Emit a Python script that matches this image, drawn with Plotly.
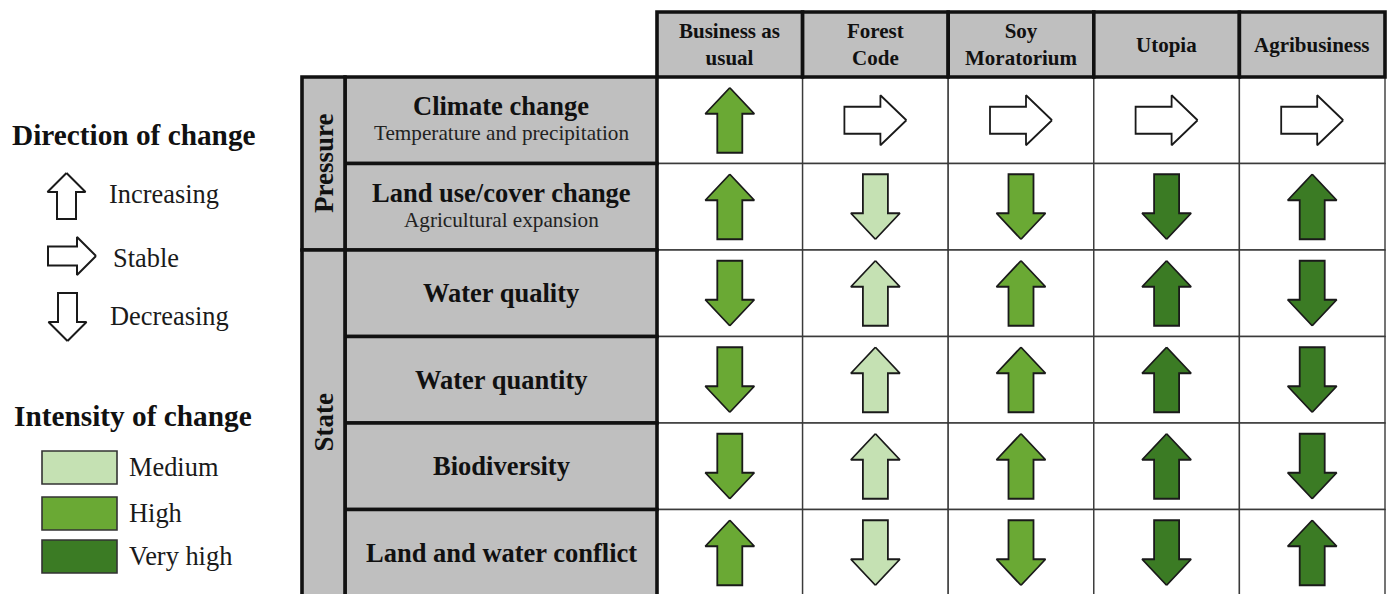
import plotly.graph_objects as go

# ---------------- data ----------------
scenarios = ["Business as<br>usual", "Forest<br>Code", "Soy<br>Moratorium", "Utopia", "Agribusiness"]
indicators = ["Climate change", "Land use/cover change", "Water quality",
              "Water quantity", "Biodiversity", "Land and water conflict"]
indicator_notes = ["Temperature and precipitation", "Agricultural expansion", "", "", "", ""]
groups = ["Pressure", "State"]
group_sizes = [2, 4]

bau_direction = ["Increasing", "Increasing", "Decreasing", "Decreasing", "Decreasing", "Increasing"]
bau_intensity = ["High", "High", "High", "High", "High", "High"]
forest_direction = ["Stable", "Decreasing", "Increasing", "Increasing", "Increasing", "Decreasing"]
forest_intensity = ["None", "Medium", "Medium", "Medium", "Medium", "Medium"]
soy_direction = ["Stable", "Decreasing", "Increasing", "Increasing", "Increasing", "Decreasing"]
soy_intensity = ["None", "High", "High", "High", "High", "High"]
utopia_direction = ["Stable", "Decreasing", "Increasing", "Increasing", "Increasing", "Decreasing"]
utopia_intensity = ["None", "Very high", "Very high", "Very high", "Very high", "Very high"]
agri_direction = ["Stable", "Increasing", "Decreasing", "Decreasing", "Decreasing", "Increasing"]
agri_intensity = ["None", "Very high", "Very high", "Very high", "Very high", "Very high"]

directions = [bau_direction, forest_direction, soy_direction, utopia_direction, agri_direction]
intensities = [bau_intensity, forest_intensity, soy_intensity, utopia_intensity, agri_intensity]

direction_labels = ["Increasing", "Stable", "Decreasing"]
intensity_labels = ["Medium", "High", "Very high"]
intensity_colors = {"Medium": "#c5e1b3", "High": "#6aa934", "Very high": "#3b7b24", "None": "#ffffff"}

# ---------------- layout helpers (pixel -> axis units) ----------------
W, H = 1387, 594
X0, CW = 657.0, 145.6      # left of data area, column width (px)
Y0, RH = 77.0, 86.5        # top of first row, row height (px)


def ux(px):
    return (px - X0) / CW


def uy(py):
    return (py - Y0) / RH


GRAY = "#bfbfbf"
INK = "#111111"
SERIF = "Liberation Serif, Times New Roman, serif"
THICK = 3.6


def arrow_offsets(kind, L, HL, HW, SW):
    a, b = L / 2.0, L / 2.0 - HL
    up = [(0, -a), (HW / 2, -b), (SW / 2, -b), (SW / 2, a), (-SW / 2, a), (-SW / 2, -b), (-HW / 2, -b), (0, -a)]
    if kind == "Increasing":
        return up
    if kind == "Decreasing":
        return [(x, -y) for x, y in up]
    return [(-y, x) for x, y in up]  # Stable -> pointing right


def arrow_trace(kind, cx, cy, L, HL, HW, SW, fill, lw):
    pts = arrow_offsets(kind, L, HL, HW, SW)
    return go.Scatter(
        x=[cx + p[0] / CW for p in pts],
        y=[cy + p[1] / RH for p in pts],
        mode="lines", fill="toself", fillcolor=fill,
        line=dict(color="#1a1a1a", width=lw),
        hoverinfo="skip", showlegend=False,
    )


fig = go.Figure()
shapes = []
annotations = []

n_cols = len(scenarios)
n_rows = len(indicators)

# ---- data cells (thin grid) ----
for j in range(n_cols):
    for i in range(n_rows):
        shapes.append(dict(type="rect", xref="x", yref="y", x0=j, x1=j + 1, y0=i, y1=i + 1,
                           fillcolor="white", line=dict(color="#3a3a3a", width=1.4), layer="below"))

# ---- header cells ----
hdr_top = uy(12)
for j, name in enumerate(scenarios):
    shapes.append(dict(type="rect", xref="x", yref="y", x0=j, x1=j + 1, y0=hdr_top, y1=0,
                       fillcolor=GRAY, line=dict(color=INK, width=THICK), layer="below"))
    annotations.append(dict(x=j + 0.5, y=hdr_top / 2, xref="x", yref="y", text="<b>" + name + "</b>",
                            showarrow=False, font=dict(family=SERIF, size=21, color=INK),
                            xanchor="center", yanchor="middle"))

# ---- indicator label cells ----
lab_left = ux(345)
for i, name in enumerate(indicators):
    shapes.append(dict(type="rect", xref="x", yref="y", x0=lab_left, x1=0, y0=i, y1=i + 1,
                       fillcolor=GRAY, line=dict(color=INK, width=THICK), layer="below"))
    cx = lab_left / 2
    if indicator_notes[i]:
        annotations.append(dict(x=cx, y=i + 0.5 - 14 / RH, xref="x", yref="y", text="<b>" + name + "</b>",
                                showarrow=False, font=dict(family=SERIF, size=26.5, color=INK),
                                xanchor="center", yanchor="middle"))
        annotations.append(dict(x=cx, y=i + 0.5 + 13 / RH, xref="x", yref="y", text=indicator_notes[i],
                                showarrow=False, font=dict(family=SERIF, size=21.2, color="#222222"),
                                xanchor="center", yanchor="middle"))
    else:
        annotations.append(dict(x=cx, y=i + 0.5, xref="x", yref="y", text="<b>" + name + "</b>",
                                showarrow=False, font=dict(family=SERIF, size=26.5, color=INK),
                                xanchor="center", yanchor="middle"))

# ---- group cells ----
grp_left = ux(302)
start = 0
for g, size in zip(groups, group_sizes):
    shapes.append(dict(type="rect", xref="x", yref="y", x0=grp_left, x1=lab_left, y0=start, y1=start + size,
                       fillcolor=GRAY, line=dict(color=INK, width=THICK), layer="below"))
    annotations.append(dict(x=(grp_left + lab_left) / 2, y=start + size / 2, xref="x", yref="y",
                            text="<b>" + g + "</b>", textangle=-90, showarrow=False,
                            font=dict(family=SERIF, size=27, color=INK), xanchor="center", yanchor="middle"))
    start += size

# ---- arrows in cells ----
for j in range(n_cols):
    for i in range(n_rows):
        d = directions[j][i]
        c = intensity_colors[intensities[j][i]]
        if d == "Stable":
            fig.add_trace(arrow_trace(d, j + 0.5, i + 0.5, 62, 26, 50, 27, c, 1.8))
        else:
            fig.add_trace(arrow_trace(d, j + 0.5, i + 0.5, 65, 26, 49, 25, c, 1.8))

# ---- legend: direction ----
annotations.append(dict(x=ux(10), y=uy(135), xref="x", yref="y", text="<b>Direction of change</b>",
                        showarrow=False, font=dict(family=SERIF, size=29.3, color=INK),
                        xanchor="left", yanchor="middle"))
leg_arrow_pos = [(66.5, 196, 46), (72, 256, 48), (67.5, 317, 48)]
leg_text_pos = [(107, 194), (111, 258), (108, 316)]
for k, lab in enumerate(direction_labels):
    ax_, ay_, L = leg_arrow_pos[k]
    fig.add_trace(arrow_trace(lab, ux(ax_), uy(ay_), L, 19, 38, 19, "white", 2))
    tx, ty = leg_text_pos[k]
    annotations.append(dict(x=ux(tx), y=uy(ty), xref="x", yref="y", text=lab, showarrow=False,
                            font=dict(family=SERIF, size=26.4, color="#1a1a1a"),
                            xanchor="left", yanchor="middle"))

# ---- legend: intensity ----
annotations.append(dict(x=ux(12), y=uy(416), xref="x", yref="y", text="<b>Intensity of change</b>",
                        showarrow=False, font=dict(family=SERIF, size=29.3, color=INK),
                        xanchor="left", yanchor="middle"))
swatch_y = [451, 497, 540]
for k, lab in enumerate(intensity_labels):
    shapes.append(dict(type="rect", xref="x", yref="y", x0=ux(42), x1=ux(117),
                       y0=uy(swatch_y[k]), y1=uy(swatch_y[k] + 33),
                       fillcolor=intensity_colors[lab], line=dict(color="#333333", width=1.6)))
    annotations.append(dict(x=ux(127), y=uy(swatch_y[k] + 16), xref="x", yref="y", text=lab,
                            showarrow=False, font=dict(family=SERIF, size=26.4, color="#1a1a1a"),
                            xanchor="left", yanchor="middle"))

fig.update_layout(
    width=W, height=H,
    margin=dict(l=0, r=0, t=0, b=0),
    paper_bgcolor="white", plot_bgcolor="white",
    shapes=shapes, annotations=annotations,
    showlegend=False,
    xaxis=dict(range=[ux(0), ux(W)], visible=False, fixedrange=True),
    yaxis=dict(range=[uy(H), uy(0)], visible=False, fixedrange=True),
)

fig.write_html("out.html", config={"displayModeBar": False},
               post_script="document.body.style.margin='0';document.body.style.overflow='hidden';")
